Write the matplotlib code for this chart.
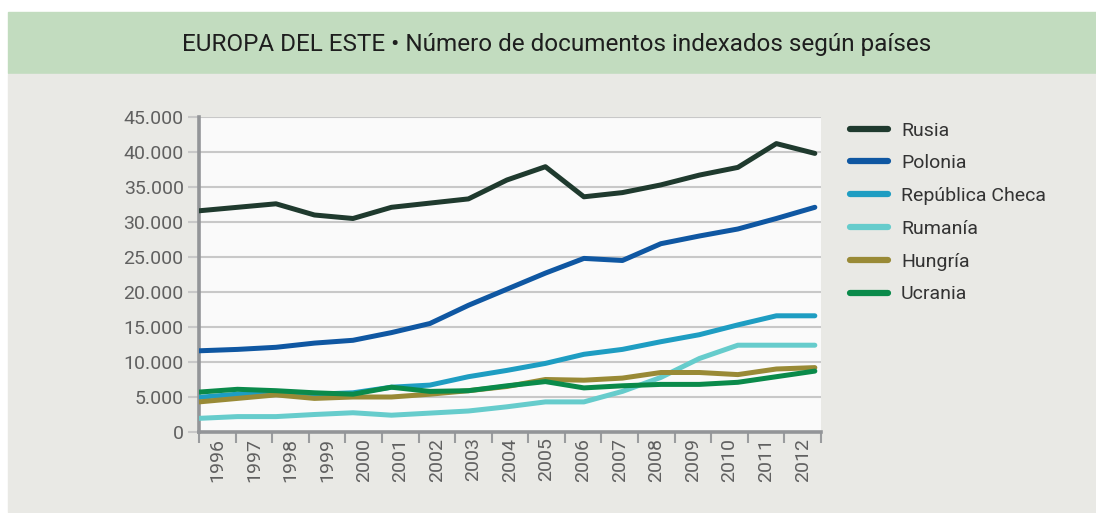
import matplotlib.pyplot as plt
import matplotlib.patches as mpatches
import numpy as np

# Data
years = [str(y) for y in range(1996, 2013)]
rusia = [31600, 32100, 32600, 31000, 30500, 32100, 32700, 33300, 36000, 37900,
         33600, 34200, 35300, 36700, 37800, 41200, 39800]
polonia = [11600, 11800, 12100, 12700, 13100, 14200, 15500, 18100, 20400, 22700,
           24800, 24500, 26900, 28000, 29000, 30500, 32100]
rep_checa = [4950, 5400, 5500, 5400, 5600, 6400, 6700, 7900, 8800, 9800,
             11100, 11800, 12900, 13900, 15300, 16600, 16600]
rumania = [1950, 2200, 2200, 2500, 2750, 2400, 2700, 3000, 3600, 4300,
           4300, 5800, 7800, 10500, 12400, 12400, 12400]
hungria = [4300, 4800, 5300, 4800, 5000, 5000, 5400, 5900, 6500, 7500,
           7400, 7700, 8500, 8500, 8200, 9000, 9200]
ucrania = [5700, 6100, 5900, 5600, 5400, 6400, 5800, 5900, 6600, 7200,
           6300, 6600, 6800, 6800, 7100, 7900, 8700]

series = [
    ("Rusia", rusia, "#1f3a2e"),
    ("Polonia", polonia, "#0f57a2"),
    ("República Checa", rep_checa, "#1e9dc2"),
    ("Rumanía", rumania, "#66cccc"),
    ("Hungría", hungria, "#998a36"),
    ("Ucrania", ucrania, "#0a8a4a"),
]

plt.rcParams["font.family"] = ["Roboto", "DejaVu Sans"]

fig = plt.figure(figsize=(10.96, 5.13), dpi=100)
fig.patch.set_facecolor("white")

# header band and gray panel
fig.patches.append(mpatches.Rectangle((8 / 1096, 1 - 73 / 513), 1 - 8 / 1096, 61 / 513,
                                      transform=fig.transFigure, color="#c2dcbf", zorder=-5))
fig.patches.append(mpatches.Rectangle((8 / 1096, 0.002), 1 - 8 / 1096, 1 - 74 / 513 - 0.002,
                                      transform=fig.transFigure, color="#e9e9e5", zorder=-5))
fig.text(557 / 1096, 1 - 44 / 513, "EUROPA DEL ESTE • Número de documentos indexados según países",
         ha="center", va="center", fontsize=17.5, color="#1e1e1e")

ax = fig.add_axes([199 / 1096, 1 - 432 / 513, 622 / 1096, 315 / 513])
ax.set_facecolor("#fafafa")

x = np.arange(len(years))
for name, vals, col in series:
    ax.plot(x, vals, color=col, lw=3.6, label=name, solid_capstyle="round",
            solid_joinstyle="round", zorder=3)

xmax = 16.16
ax.set_xlim(0, xmax)
ax.set_ylim(0, 45000)
bin_w = xmax / len(years)
ax.set_xticks([bin_w * k for k in range(len(years) + 1)])
ax.set_xticklabels([])
ax.set_xticks([bin_w * (k + 0.5) for k in range(len(years))], minor=True)
ax.set_xticklabels(years, minor=True, rotation=90, fontsize=14, color="#606060")
ax.tick_params(axis="x", which="major", length=8, width=1.5, color="#9a9c9e", direction="out")
ax.tick_params(axis="x", which="minor", length=0, pad=4)

yt = np.arange(0, 45001, 5000)
ax.set_yticks(yt)
ax.set_yticklabels(["0" if v == 0 else f"{v // 1000}.000" for v in yt],
                   fontsize=14, color="#606060")
ax.tick_params(axis="y", length=8, width=1.5, color="#c8c8c8", pad=3)
ax.grid(axis="y", color="#c8c8c8", lw=1.5)
ax.set_axisbelow(True)

for s in ["top", "right"]:
    ax.spines[s].set_visible(False)
for s in ["left", "bottom"]:
    ax.spines[s].set_color("#939598")
    ax.spines[s].set_linewidth(2.6)

leg = ax.legend(loc="upper left", bbox_to_anchor=(832 / 1096, 1 - 104 / 513),
                bbox_transform=fig.transFigure, frameon=False, fontsize=14,
                handlelength=2.0, handletextpad=0.65, labelspacing=0.76)
for t in leg.get_texts():
    t.set_color("#333333")
for h in leg.get_lines():
    h.set_linewidth(4.5)

fig.savefig("out.png", dpi=100, facecolor=fig.get_facecolor())
